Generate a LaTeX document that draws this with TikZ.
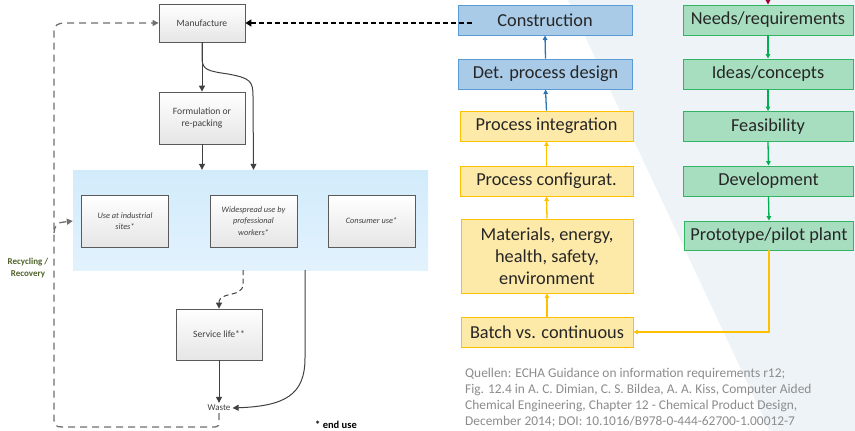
\documentclass[tikz,border=0pt]{standalone}
\usepackage{fontspec}
\setmainfont{Carlito}
\usetikzlibrary{arrows.meta,calc}
\definecolor{bgpoly}{RGB}{238,243,247}
\definecolor{usebluetop}{RGB}{210,235,251}
\definecolor{usebluebot}{RGB}{226,242,253}
\definecolor{lboxline}{RGB}{90,90,90}
\definecolor{ltext}{RGB}{64,64,64}
\definecolor{dashgray}{RGB}{112,112,112}
\definecolor{bfill}{RGB}{169,203,232}
\definecolor{bline}{RGB}{91,155,213}
\definecolor{yfill}{RGB}{253,233,168}
\definecolor{yline}{RGB}{255,192,0}
\definecolor{gfill}{RGB}{168,222,192}
\definecolor{gline}{RGB}{50,180,100}
\definecolor{garrow}{RGB}{0,176,80}
\definecolor{barrow}{RGB}{46,117,182}
\definecolor{darkred}{RGB}{160,0,50}
\definecolor{qgray}{RGB}{140,140,140}
\definecolor{recgreen}{RGB}{79,98,40}
\tikzset{
  lbox/.style={draw=lboxline, line width=0.8pt, top color=white, bottom color=black!10,
    align=center, text=ltext, inner sep=2pt,
    font=\fontsize{9.6}{12}\selectfont},
  ibox/.style={lbox, minimum width=87pt, minimum height=52pt,
    font=\fontsize{8.3}{11.5}\selectfont\itshape},
  rbox/.style={line width=0.9pt, align=center, text=black!85, inner sep=2pt,
    minimum height=30pt, font=\fontsize{18.3}{22}\selectfont},
  bbox/.style={rbox, fill=bfill, draw=bline, minimum width=174pt},
  ybox/.style={rbox, fill=yfill, draw=yline, minimum width=173pt},
  gbox/.style={rbox, fill=gfill, draw=gline, minimum width=170pt},
  larrow/.style={draw=ltext, line width=1pt, -{Triangle[width=6pt,length=6pt]}},
  grayloop/.style={draw=dashgray, line width=1.3pt, dash pattern=on 7pt off 5pt},
  rarrow/.style={line width=1.3pt, -{Triangle[width=4.5pt,length=4.5pt]}},
  qline/.style={anchor=base west, text=qgray, inner sep=0pt, font=\fontsize{13.4}{16}\selectfont},
}
\begin{document}
\begin{tikzpicture}[x=1pt,y=-1pt]
\useasboundingbox (0,0) rectangle (855,431);
\fill[white] (0,0) rectangle (855,431);
\fill[bgpoly] (568,0) -- (855,0) -- (855,431) -- (770,431) -- cycle;

% ---------- left part ----------
\node[minimum width=355pt, minimum height=100pt, top color=usebluetop, bottom color=usebluebot, inner sep=0pt] (usearea) at (250.5,220) {};
\node[lbox, minimum width=86pt, minimum height=38pt] (man) at (202,23) {Manufacture};
\node[lbox, minimum width=86pt, minimum height=52pt] (form) at (202,118) {Formulation or\\re-packing};
\node[ibox] (indust) at (125,221) {Use at industrial\\sites*};
\node[ibox] (wide) at (253.5,221) {Widespread use by\\professional\\workers*};
\node[ibox] (cons) at (371.5,221) {Consumer use*};
\node[lbox, minimum width=86pt, minimum height=51pt] (serv) at (219,334.5) {Service life**};
\node[text=ltext, font=\fontsize{9}{10}\selectfont, inner sep=2pt] (waste) at (219,408) {Waste};
\node[text=recgreen, align=center, font=\fontsize{9}{12}\selectfont\bfseries, inner sep=0pt] (recyc) at (28,268) {Recycling /\\Recovery};
\node[anchor=base west, font=\fontsize{10.5}{12}\selectfont\bfseries, inner sep=0pt] (enduse) at (315,428) {* end use};

\draw[larrow] (man.south) -- (form.north);
\draw[larrow] (man.south) -- (202,58) .. controls (202,70) and (208,71) .. (228,74)
  .. controls (250,78) and (253,81) .. (253,96) -- (usearea.north -| wide.north);
\draw[larrow] (form.south) -- (form.south |- usearea.north);
\draw[larrow, draw=ltext, dash pattern=on 5pt off 3.5pt] (243,270) -- (243,284) .. controls (243,292) and (236,293) .. (228,295)
  .. controls (220,297) and (219,300) .. (serv.north);
\draw[larrow] (serv.south) -- (waste.north);
\draw[larrow] (305,270) -- (305,358) .. controls (305,395) and (285,406) .. (waste.east);
\draw[grayloop, -{Triangle[width=6pt,length=6pt]}] (waste.south) -- (219,423) .. controls (219,427) and (216,427) .. (212,427)
  -- (62,427) .. controls (56,427) and (54,425) .. (54,420) -- (54,32)
  .. controls (54,25) and (58,23) .. (65,23) -- (man.west);
\draw[grayloop, -{Triangle[width=6pt,length=6pt]}] (54,233) .. controls (54,226) and (58,222) .. (64,222) -- (usearea.west |- indust.west);

% ---------- right part ----------
\node[bbox] (constr) at (545,20) {Construction};
\node[bbox] (det) at (545.5,74) {Det. process design};
\node[ybox] (pint) at (546.5,126) {Process integration};
\node[ybox] (pconf) at (546.5,181) {Process configurat.};
\node[ybox, minimum width=172pt, minimum height=74pt] (mat) at (547,256) {Materials, energy,\\health, safety,\\environment};
\node[ybox, minimum width=172pt] (batch) at (547,332) {Batch vs. continuous};

\node[gbox] (needs) at (768,20) {Needs/requirements};
\node[gbox] (ideas) at (768,74) {Ideas/concepts};
\node[gbox] (feas) at (768,126.5) {Feasibility};
\node[gbox] (devel) at (768.5,181) {Development};
\node[gbox, minimum width=169pt, minimum height=29pt] (proto) at (769,235.5) {Prototype/pilot plant};

\draw[rarrow, draw=barrow] (det.north) -- (constr.south);
\draw[rarrow, draw=barrow] (pint.north) -- (det.south);
\draw[rarrow, draw=yline] (pconf.north) -- (pint.south);
\draw[rarrow, draw=yline] (mat.north) -- (pconf.south);
\draw[rarrow, draw=yline] (batch.north) -- (mat.south);
\draw[rarrow, draw=garrow] (needs.south) -- (ideas.north);
\draw[rarrow, draw=garrow] (ideas.south) -- (feas.north);
\draw[rarrow, draw=garrow] (feas.south) -- (devel.north);
\draw[rarrow, draw=garrow] (devel.south) -- (proto.north);
\draw[rarrow, draw=yline] (proto.south) -- (proto.south |- batch.east) -- (batch.east);
\coordinate (redtop) at (768,-8);
\draw[rarrow, draw=darkred] (redtop) -- (needs.north);

\draw[black, line width=1.6pt, dash pattern=on 5pt off 3pt, -{Triangle[width=7pt,length=6pt]}]
  ($(constr.west |- man.east)+(14,0)$) -- (man.east);

\node[qline] (q1) at (465,377) {Quellen: ECHA Guidance on information requirements r12;};
\node[qline] (q2) at (465,393) {Fig. 12.4 in A. C. Dimian, C. S. Bildea, A. A. Kiss, Computer Aided};
\node[qline] (q3) at (465,409) {Chemical Engineering, Chapter 12 - Chemical Product Design,};
\node[qline] (q4) at (465,425) {December 2014; DOI: 10.1016/B978-0-444-62700-1.00012-7};
\end{tikzpicture}
\end{document}
